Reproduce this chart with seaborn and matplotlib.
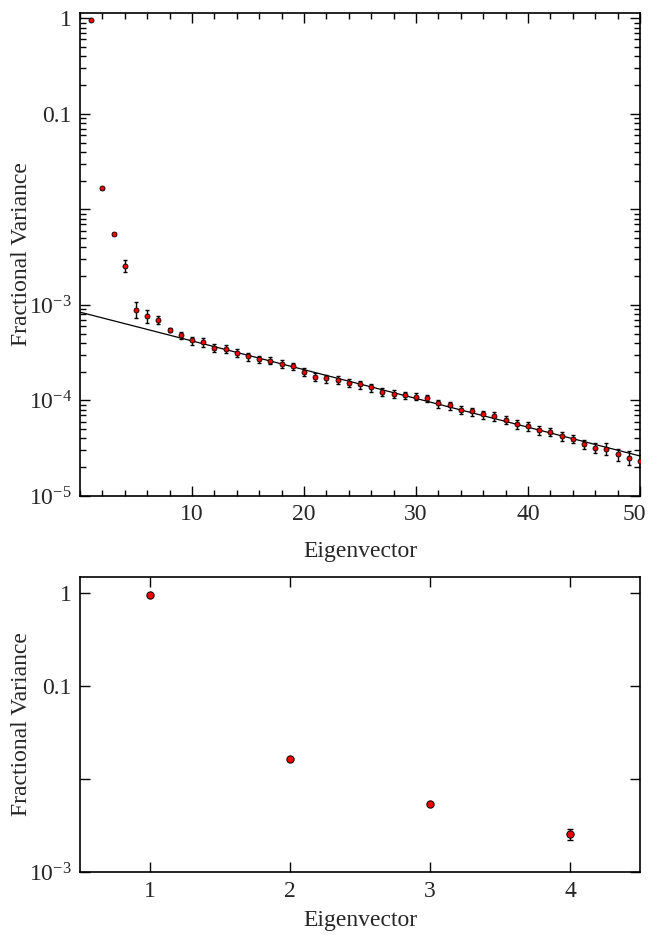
import numpy as np
import pandas as pd
import matplotlib
matplotlib.use("Agg")
import matplotlib.pyplot as plt
import matplotlib.transforms as mtransforms
from matplotlib.ticker import LogLocator, NullFormatter, FixedLocator, FixedFormatter, MultipleLocator
import seaborn as sns

# ---- data ----
eigenvector = list(range(1, 51))
frac_var = [0.966, 0.0167, 0.0055, 0.00258, 8.95e-4, 7.7e-4, 7.0e-4, 5.5e-4, 4.8e-4, 4.25e-4,
            4.08e-4, 3.56e-4, 3.47e-4, 3.15e-4, 2.89e-4, 2.69e-4, 2.62e-4, 2.42e-4, 2.27e-4, 2.01e-4,
            1.78e-4, 1.70e-4, 1.65e-4, 1.52e-4, 1.47e-4, 1.37e-4, 1.23e-4, 1.17e-4, 1.13e-4, 1.10e-4,
            1.05e-4, 9.3e-5, 8.87e-5, 8.0e-5, 7.68e-5, 7.14e-5, 6.8e-5, 6.28e-5, 5.66e-5, 5.35e-5,
            4.85e-5, 4.71e-5, 4.2e-5, 3.97e-5, 3.47e-5, 3.2e-5, 3.13e-5, 2.72e-5, 2.51e-5, 2.34e-5]
frac_err = [0.004, 0.0002, 0.0001, 0.00035, 1.7e-4, 1.2e-4, 0.75e-4, 0.3e-4, 0.45e-4, 0.42e-4,
            0.42e-4, 0.32e-4, 0.30e-4, 0.28e-4, 0.27e-4, 0.25e-4, 0.23e-4, 0.22e-4, 0.21e-4, 0.19e-4,
            0.17e-4, 0.16e-4, 0.15e-4, 0.14e-4, 0.14e-4, 0.13e-4, 0.12e-4, 0.11e-4, 0.10e-4, 0.10e-4,
            0.09e-4, 0.9e-5, 0.85e-5, 0.75e-5, 0.75e-5, 0.7e-5, 0.7e-5, 0.65e-5, 0.6e-5, 0.55e-5,
            0.5e-5, 0.5e-5, 0.45e-5, 0.42e-5, 0.38e-5, 0.4e-5, 0.42e-5, 0.42e-5, 0.42e-5, 0.35e-5]
# exponential fit: log10(v) = log10(fit_amp) + fit_slope * x
fit_amp = 8.4e-4
fit_slope = -0.0301

n_zoom = 4  # bottom panel shows first four eigenvectors

top_yticks = [1, 0.1, 0.01, 1e-3, 1e-4, 1e-5]
top_ylabels = ["1", "0.1", "", r"$\mathregular{10^{-3}}$", r"$\mathregular{10^{-4}}$", r"$\mathregular{10^{-5}}$"]
top_xticks = [10, 20, 30, 40, 50]
bot_yticks = [1, 0.1, 0.01, 1e-3]
bot_ylabels = ["1", "0.1", "", r"$\mathregular{10^{-3}}$"]
bot_xticks = [1, 2, 3, 4]

df = pd.DataFrame({"Eigenvector": eigenvector, "Fractional Variance": frac_var, "err": frac_err})
xfit = np.linspace(0, 50, 200)
fit_df = pd.DataFrame({"x": xfit, "y": fit_amp * 10 ** (fit_slope * xfit)})

# ---- style ----
sns.set_theme(style="ticks")
plt.rcParams["font.family"] = ["Liberation Serif", "DejaVu Serif"]
plt.rcParams["mathtext.fontset"] = "custom"
plt.rcParams["mathtext.rm"] = "Liberation Serif"
plt.rcParams["mathtext.it"] = "Liberation Serif:italic"
plt.rcParams["axes.linewidth"] = 1.2
plt.rcParams["axes.edgecolor"] = "black"

RED = "#f00000"

fig = plt.figure(figsize=(6.49, 9.35), dpi=100)
ax1 = fig.add_axes([0.1233, 0.4695, 0.8628, 0.5166])
ax2 = fig.add_axes([0.1233, 0.0670, 0.8628, 0.3162])

# top panel
sns.lineplot(data=fit_df, x="x", y="y", ax=ax1, color="black", linewidth=0.9, zorder=1)
ax1.errorbar(df["Eigenvector"], df["Fractional Variance"], yerr=df["err"], fmt="none",
             ecolor="black", elinewidth=1.0, capsize=1.5, capthick=1.0, zorder=2)
sns.scatterplot(data=df, x="Eigenvector", y="Fractional Variance", ax=ax1, color=RED,
                edgecolor="black", linewidth=0.6, s=13, zorder=3)
ax1.set_yscale("log")
ax1.set_xlim(0, 50)
ax1.set_ylim(1e-5, 1.136)
ax1.yaxis.set_major_locator(FixedLocator(top_yticks))
ax1.yaxis.set_major_formatter(FixedFormatter(top_ylabels))
ax1.yaxis.set_minor_locator(LogLocator(base=10, subs=np.arange(2, 10), numticks=20))
ax1.yaxis.set_minor_formatter(NullFormatter())
ax1.xaxis.set_major_locator(FixedLocator(top_xticks))
ax1.xaxis.set_major_formatter(FixedFormatter([str(v) for v in top_xticks]))
ax1.xaxis.set_minor_locator(MultipleLocator(2))
ax1.set_xlabel("Eigenvector", fontsize=17, labelpad=11)
ax1.set_ylabel("Fractional Variance", fontsize=17)
ax1.yaxis.set_label_coords(-0.085, 0.5)

# bottom panel
dz = df.iloc[:n_zoom]
ax2.errorbar(dz["Eigenvector"], dz["Fractional Variance"], yerr=dz["err"], fmt="none",
             ecolor="black", elinewidth=1.0, capsize=2.5, capthick=1.0, zorder=2)
sns.scatterplot(data=dz, x="Eigenvector", y="Fractional Variance", ax=ax2, color=RED,
                edgecolor="black", linewidth=0.7, s=28, zorder=3)
ax2.set_yscale("log")
ax2.set_xlim(0.5, 4.5)
ax2.set_ylim(1e-3, 1.51)
ax2.yaxis.set_major_locator(FixedLocator(bot_yticks))
ax2.yaxis.set_major_formatter(FixedFormatter(bot_ylabels))
ax2.yaxis.set_minor_locator(FixedLocator([]))
ax2.xaxis.set_major_locator(FixedLocator(bot_xticks))
ax2.xaxis.set_major_formatter(FixedFormatter([str(v) for v in bot_xticks]))
ax2.xaxis.set_minor_locator(FixedLocator([]))
ax2.set_xlabel("Eigenvector", fontsize=17, labelpad=6)
ax2.set_ylabel("Fractional Variance", fontsize=17)
ax2.yaxis.set_label_coords(-0.085, 0.5)

for ax in (ax1, ax2):
    ax.tick_params(which="both", direction="in", top=True, right=True, color="black", width=1.0)
    ax.tick_params(which="major", length=7, labelsize=17, pad=6)
    ax.tick_params(which="minor", length=4)
    for s in ax.spines.values():
        s.set_visible(True)
        s.set_color("black")

# nudge the last top-panel x tick label ("50") left so it stays inside the canvas
fig.canvas.draw()
last = ax1.xaxis.get_major_ticks()[-1].label1
last.set_transform(last.get_transform() + mtransforms.ScaledTranslation(-6 / 100, 0, fig.dpi_scale_trans))

fig.savefig("out.png", dpi=100)
